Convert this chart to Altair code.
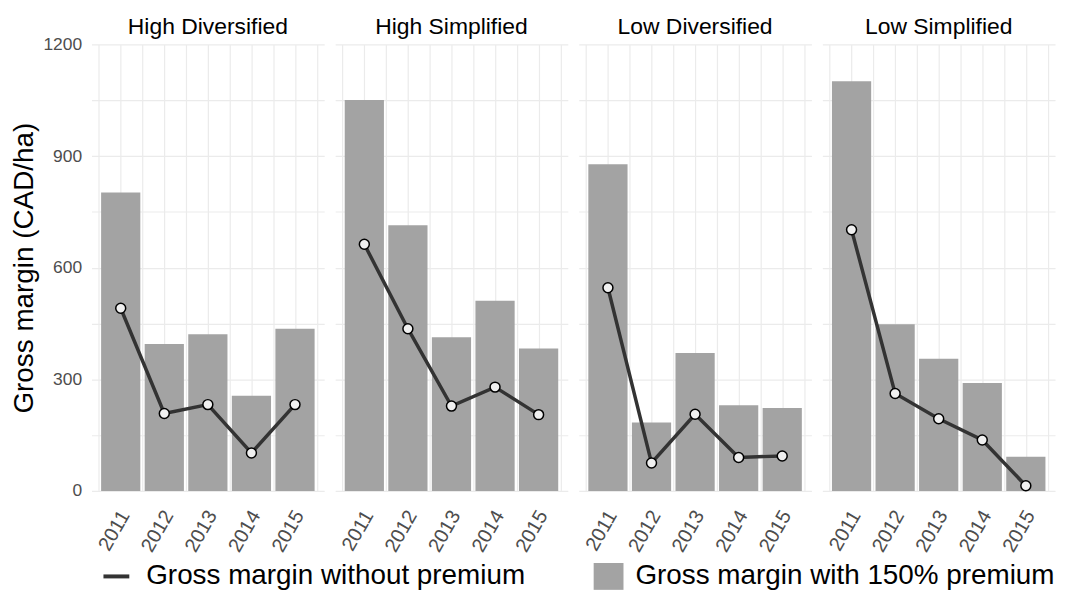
import altair as alt
import pandas as pd

years = [2011, 2012, 2013, 2014, 2015]
systems = ["High Diversified", "High Simplified", "Low Diversified", "Low Simplified"]

# Gross margin with 150% premium (bars), CAD/ha
with_premium_hd = [802, 395, 421, 256, 436]
with_premium_hs = [1051, 714, 413, 511, 383]
with_premium_ld = [878, 184, 371, 230, 223]
with_premium_ls = [1101, 448, 355, 290, 92]

# Gross margin without premium (line), CAD/ha
without_premium_hd = [491, 208, 232, 102, 232]
without_premium_hs = [663, 436, 228, 279, 205]
without_premium_ld = [546, 75, 206, 90, 94]
without_premium_ls = [702, 262, 194, 137, 14]

bar_label = "Gross margin with 150% premium"
line_label = "Gross margin without premium"

rows = []
for s, wp, nop in zip(
    systems,
    [with_premium_hd, with_premium_hs, with_premium_ld, with_premium_ls],
    [without_premium_hd, without_premium_hs, without_premium_ld, without_premium_ls],
):
    for y, a, b in zip(years, wp, nop):
        rows.append({"system": s, "year": y, "with_premium": a, "without_premium": b,
                     "barlab": bar_label, "linelab": line_label})
df = pd.DataFrame(rows)

FONT = "Liberation Sans"

xscale = alt.Scale(domain=[2010.33, 2015.67], nice=False, zero=False)
xaxis = alt.Axis(
    values=[2010.5, 2011, 2011.5, 2012, 2012.5, 2013, 2013.5, 2014, 2014.5, 2015, 2015.5],
    labelExpr="datum.value % 1 == 0 ? toString(datum.value) : ''",
    labelAngle=-60, labelFontSize=20, labelColor="#4d4d4d", labelFont=FONT,
    labelOverlap=False, labelAlign="right", labelBaseline="middle",
    ticks=False, domain=False, labelPadding=18, labelOffset=4, grid=True, title=None,
)
yscale = alt.Scale(domain=[0, 1200], nice=False)
yaxis = alt.Axis(
    values=[0, 150, 300, 450, 600, 750, 900, 1050, 1200],
    labelExpr="datum.value % 300 == 0 ? toString(datum.value) : ''",
    labelOverlap=False,
    labelFontSize=17.5, labelColor="#4d4d4d", labelFont=FONT,
    ticks=False, domain=False, labelPadding=10,
    title="Gross margin (CAD/ha)", titleFontSize=28, titleFont=FONT,
    titleFontWeight="normal", titleColor="black", titlePadding=4,
)

base = alt.Chart(df)

bars = base.transform_calculate(
    x0="datum.year - 0.45", x1="datum.year + 0.45"
).mark_bar(opacity=1).encode(
    x=alt.X("x0:Q", scale=xscale, axis=xaxis, title=None),
    x2="x1:Q",
    y=alt.Y("with_premium:Q", scale=yscale, axis=yaxis),
    y2=alt.datum(0),
    fill=alt.Fill("barlab:N", scale=alt.Scale(domain=[bar_label], range=["#a3a3a3"]),
                  legend=alt.Legend(title=None, orient="none", legendX=505, legendY=520,
                                    labelFontSize=28, labelFont=FONT, labelColor="black",
                                    labelLimit=0,
                                    symbolType="M-1,-0.9L1,-0.9L1,0.9L-1,0.9Z",
                                    symbolSize=900, symbolStrokeWidth=0, labelOffset=12)),
)

line = base.mark_line(strokeWidth=3.5).encode(
    x=alt.X("year:Q", scale=xscale, axis=xaxis, title=None),
    y=alt.Y("without_premium:Q", scale=yscale, axis=yaxis),
    stroke=alt.Stroke("linelab:N", scale=alt.Scale(domain=[line_label], range=["#333333"]),
                      legend=alt.Legend(title=None, orient="none", legendX=10, legendY=520,
                                        labelFontSize=28, labelFont=FONT, labelColor="black",
                                        labelLimit=0,
                                        symbolType="stroke", symbolSize=676,
                                        symbolStrokeWidth=4, labelOffset=15)),
)

points = base.mark_point(shape="circle", filled=True, fill="#f0f0f0", stroke="black",
                         strokeWidth=1.5, size=100, opacity=1).encode(
    x=alt.X("year:Q", scale=xscale, axis=xaxis, title=None),
    y=alt.Y("without_premium:Q", scale=yscale, axis=yaxis),
)

layer = alt.layer(bars, line, points).properties(width=234, height=449)

chart = layer.facet(
    column=alt.Column("system:N", sort=systems,
                      header=alt.Header(title=None, labelFontSize=23, labelFont=FONT,
                                        labelColor="black", labelPadding=6)),
    spacing=11,
).configure_view(stroke=None).configure_axis(
    gridColor="#ebebeb", gridWidth=1.2
).properties(background="white",
             padding={"left": 3, "right": 0, "top": 6, "bottom": 0})

chart.save("out.html", embed_options={"renderer": "svg", "actions": False})
